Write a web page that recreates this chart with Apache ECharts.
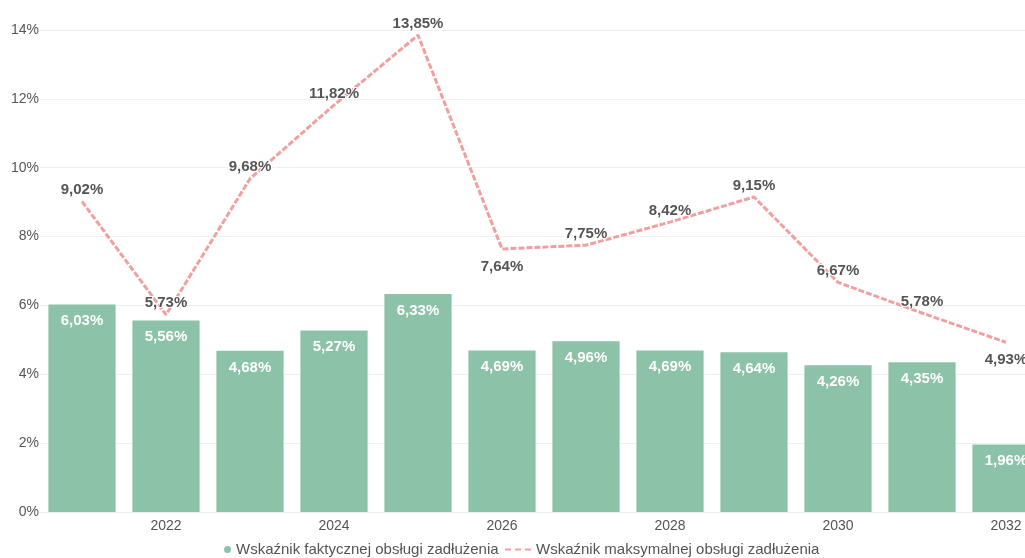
<!DOCTYPE html>
<html>
<head>
<meta charset="utf-8">
<script src="https://cdn.jsdelivr.net/npm/echarts@6/dist/echarts.min.js"></script>
<style>
  html, body { margin: 0; padding: 0; background: #fff; }
  #chart { width: 1025px; height: 558px; }
</style>
</head>
<body>
<div id="chart"></div>
<script>
// lata
var years = ['2021', '2022', '2023', '2024', '2025', '2026', '2027', '2028', '2029', '2030', '2031', '2032'];
// wskaźnik faktyczny (słupki)
var actualVals = [6.03, 5.56, 4.68, 5.27, 6.33, 4.69, 4.96, 4.69, 4.64, 4.26, 4.35, 1.96];
// wskaźnik maksymalny (linia)
var maxVals = [9.02, 5.73, 9.68, 11.82, 13.85, 7.64, 7.75, 8.42, 9.15, 6.67, 5.78, 4.93];
var yTicks = [0, 2, 4, 6, 8, 10, 12, 14];

var actualName = 'Wskaźnik faktycznej obsługi zadłużenia';
var maxName = 'Wskaźnik maksymalnej obsługi zadłużenia';

function pct(v) {
    return v.toFixed(2).replace('.', ',') + '%';
}

var legendText = { color: '#555', fontSize: 15 };

var myChart = echarts.init(document.getElementById('chart'));
var option = {
    animation: false,
    textStyle: { fontFamily: 'Liberation Sans, Arial, sans-serif' },
    grid: {
        left: 40,
        width: 1008, // wykres wychodzi poza prawą krawędź
        top: 30,
        bottom: 46,
        outerBoundsMode: 'none'
    },
    legend: [{
        bottom: 1,
        left: 224,
        itemWidth: 7,
        itemHeight: 7,
        padding: 0,
        textStyle: legendText,
        data: [{ name: actualName, icon: 'circle' }]
    }, {
        bottom: 1,
        left: 505,
        itemWidth: 26,
        itemHeight: 8,
        padding: 0,
        textStyle: legendText,
        data: [{
            name: maxName,
            icon: 'path://M0,0h6v2h-6z M10,0h6v2h-6z M20,0h6v2h-6z'
        }]
    }],
    xAxis: {
        type: 'category',
        data: years,
        axisTick: { show: false },
        axisLine: { lineStyle: { color: '#eee' } },
        axisLabel: {
            color: '#555',
            fontSize: 14,
            margin: 7,
            interval: function (i) { return i % 2 === 1; }
        }
    },
    yAxis: {
        type: 'value',
        min: yTicks[0],
        max: yTicks[yTicks.length - 1],
        interval: 2,
        axisLabel: {
            color: '#555',
            fontSize: 14,
            margin: 1,
            formatter: function (v) { return v + '%'; }
        },
        splitLine: { lineStyle: { color: '#f0f0f0' } }
    },
    series: [{
        name: actualName,
        type: 'bar',
        data: actualVals,
        barCategoryGap: '20%',
        itemStyle: { color: '#8cc3a8' },
        label: {
            show: true,
            position: 'insideTop',
            distance: 9,
            color: '#fff',
            fontWeight: 'bold',
            fontSize: 15,
            formatter: function (p) { return pct(p.value); }
        }
    }, {
        name: maxName,
        type: 'line',
        symbol: 'circle',
        symbolSize: 0,
        data: maxVals.map(function (v, i) {
            // etykiety pod punktem dla 2026 i 2032
            var below = (i === 5 || i === maxVals.length - 1);
            return { value: v, label: { position: below ? 'bottom' : 'top', distance: below ? 10 : 4 } };
        }),
        lineStyle: { color: '#f0a0a0', width: 3, type: [6, 2] },
        itemStyle: { color: '#f0a0a0' },
        label: {
            show: true,
            color: '#555',
            fontWeight: 'bold',
            fontSize: 15,
            textBorderColor: '#fff',
            textBorderWidth: 2,
            formatter: function (p) { return pct(p.value); }
        },
        z: 3
    }]
};
myChart.setOption(option);
</script>
</body>
</html>
